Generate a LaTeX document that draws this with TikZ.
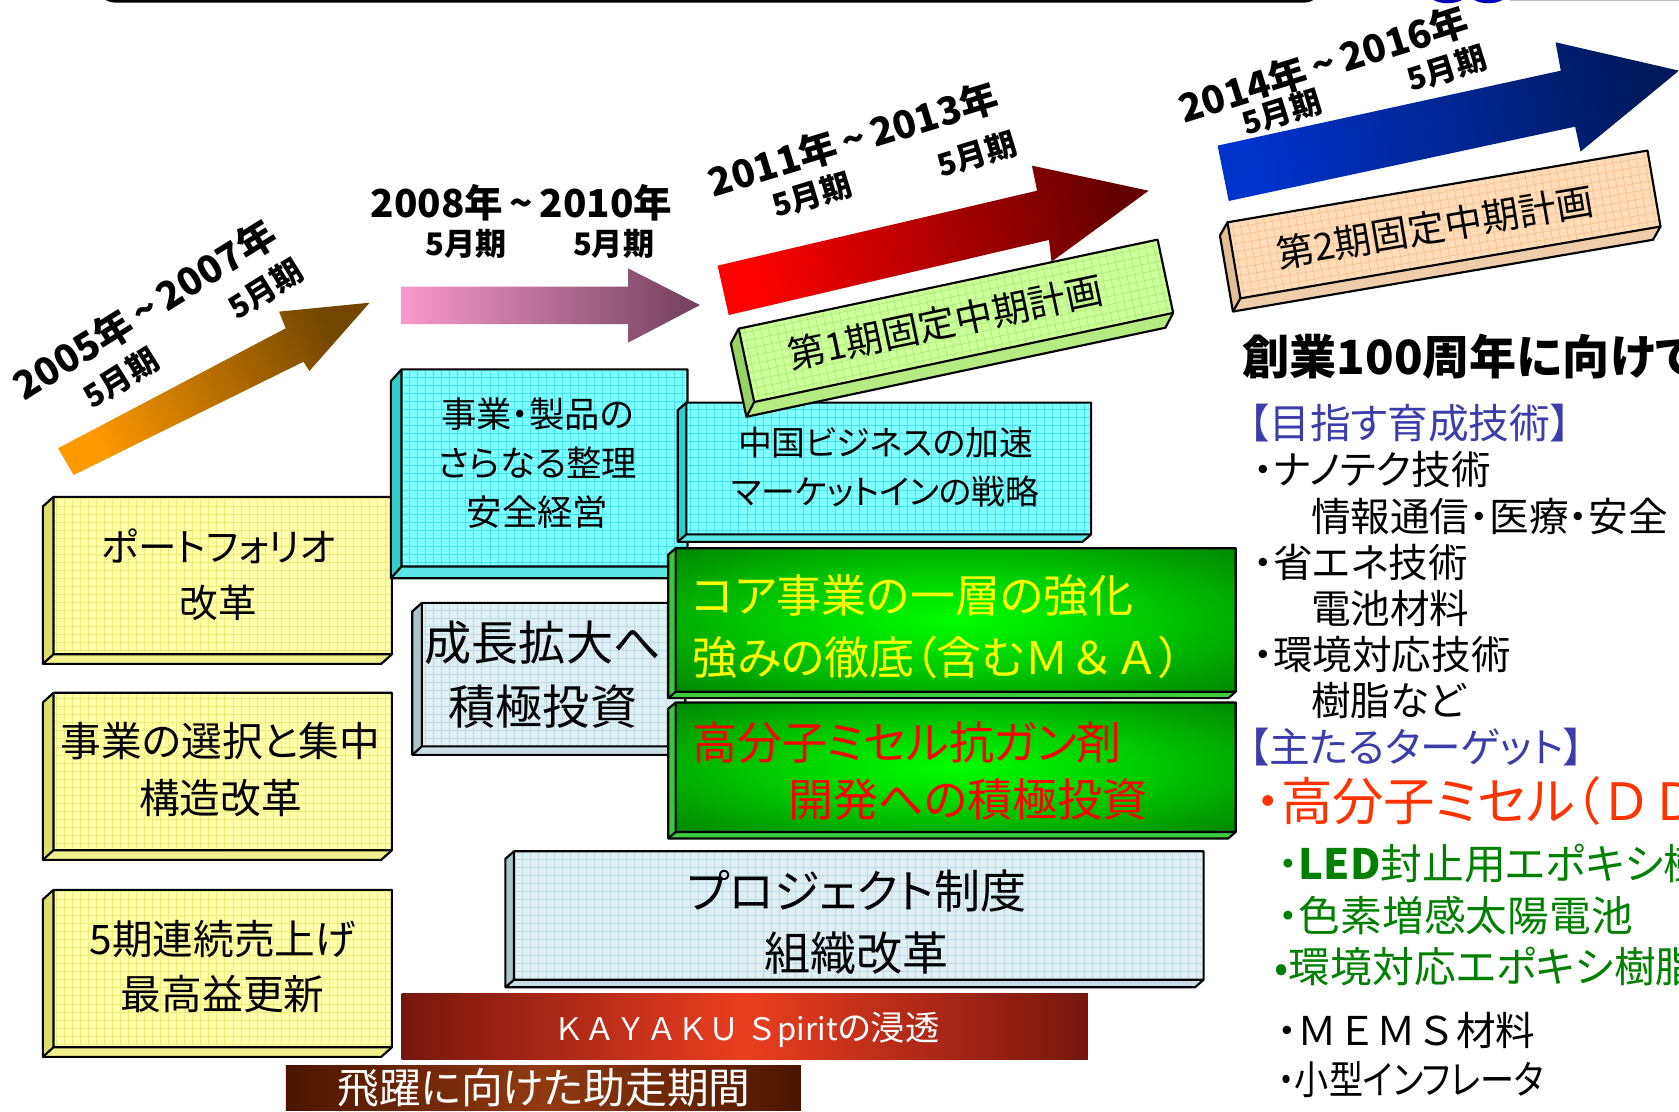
\documentclass[tikz,border=0pt]{standalone}
\usepackage{fontspec}
\usepackage{graphicx}
\setmainfont{Noto Sans CJK JP}[RawFeature=+palt]
\newfontfamily\jpw{Noto Sans CJK JP}
\newcommand\fsz[2]{\fontsize{#1}{#2}\selectfont}
\newcommand\tld{\,\textasciitilde\,}
\pgfdeclareradialshading{greenglow}{\pgfpoint{0bp}{0bp}}{rgb(0bp)=(0,1,0); rgb(18bp)=(0,0.78,0); rgb(47bp)=(0,0.36,0); rgb(50bp)=(0,0.36,0)}
% colours
\definecolor{yelF}{RGB}{255,255,170}\definecolor{yelL}{RGB}{222,222,110}\definecolor{yelB}{RGB}{240,240,140}\definecolor{yelG}{RGB}{236,236,120}
\definecolor{cyF}{RGB}{128,255,255}\definecolor{cyL}{RGB}{51,204,204}\definecolor{cyB}{RGB}{90,230,230}\definecolor{cyG}{RGB}{70,225,240}
\definecolor{gyF}{RGB}{222,240,244}\definecolor{gyL}{RGB}{170,195,200}\definecolor{gyB}{RGB}{200,222,228}\definecolor{gyG}{RGB}{190,218,226}
\definecolor{gnL}{RGB}{60,200,60}\definecolor{gnB}{RGB}{60,205,60}
\definecolor{lgF}{RGB}{204,255,153}\definecolor{lgL}{RGB}{150,210,100}\definecolor{lgB}{RGB}{180,235,130}\definecolor{lgG}{RGB}{175,235,125}
\definecolor{pcF}{RGB}{255,221,185}\definecolor{pcL}{RGB}{225,190,150}\definecolor{pcB}{RGB}{240,205,170}\definecolor{pcG}{RGB}{245,195,150}
\definecolor{arO1}{RGB}{255,153,0}\definecolor{arO2}{RGB}{115,70,0}
\definecolor{pk1}{RGB}{249,154,203}\definecolor{pk2}{RGB}{112,64,90}
\definecolor{rd1}{RGB}{255,0,0}\definecolor{rd2}{RGB}{100,0,0}
\definecolor{bl1}{RGB}{0,51,204}\definecolor{bl2}{RGB}{0,25,90}
\definecolor{kayE}{RGB}{118,22,14}\definecolor{kayM}{RGB}{235,62,32}
\definecolor{hiE}{RGB}{75,20,0}\definecolor{hiM}{RGB}{145,58,16}
\definecolor{hblue}{RGB}{60,60,170}\definecolor{ored}{RGB}{255,51,0}\definecolor{tgreen}{RGB}{0,128,0}
\definecolor{tyellow}{RGB}{255,255,0}\definecolor{tred}{RGB}{255,0,0}
\tikzset{
  boxline/.style={draw=black, line width=1pt, line join=round},
  yelfront/.style={fill=yelF}, yelleft/.style={fill=yelL}, yelbot/.style={fill=yelB}, yelgrid/.style={draw=yelG, line width=0.35pt, step=3.75pt},
  cyfront/.style={fill=cyF}, cyleft/.style={fill=cyL}, cybot/.style={fill=cyB}, cygrid/.style={draw=cyG, line width=0.35pt, step=3.75pt},
  gyfront/.style={fill=gyF}, gyleft/.style={fill=gyL}, gybot/.style={fill=gyB}, gygrid/.style={draw=gyG, line width=0.35pt, step=3.75pt},
  gnfront/.style={shade, shading=greenglow}, gnleft/.style={fill=gnL}, gnbot/.style={fill=gnB}, gngrid/.style={draw=none},
  lgfront/.style={fill=lgF}, lgleft/.style={fill=lgL}, lgbot/.style={fill=lgB}, lggrid/.style={draw=lgG, line width=0.35pt, step=3.75pt},
  pcfront/.style={fill=pcF}, pcleft/.style={fill=pcL}, pcbot/.style={fill=pcB}, pcgrid/.style={draw=pcG, line width=0.35pt, step=3.75pt},
  txt/.style={inner sep=0pt, align=center, text=black},
  datet/.style={inner sep=0pt, font=\bfseries\fsz{18}{22}},
  mayt/.style={inner sep=0pt, font=\bfseries\fsz{14.5}{18}},
  rcol/.style={inner sep=0pt, anchor=west, font=\fsz{18.5}{22}},
}
% cube: x1 y1 x2 y2 (front face), depth left, depth down, style prefix
\newcommand\cubebox[7]{%
  \fill[#7left] (#1,#2) -- ({#1-#5},{#2+#6}) -- ({#1-#5},{#4+#6}) -- (#1,#4) -- cycle;
  \fill[#7bot] (#1,#4) -- ({#1-#5},{#4+#6}) -- ({#3-#5},{#4+#6}) -- (#3,#4) -- cycle;
  \path[#7front] (#1,#2) rectangle (#3,#4);
  \begin{scope}
    \clip (#1,#2) rectangle (#3,#4);
    \draw[#7grid] (#1,#4) grid (#3,#2);
  \end{scope}
  \draw[boxline] (#1,#2) -- ({#1-#5},{#2+#6}) -- ({#1-#5},{#4+#6}) -- ({#3-#5},{#4+#6}) -- (#3,#4) -- (#3,#2) -- cycle;
  \draw[boxline] (#1,#2) -- (#1,#4) -- (#3,#4) (#1,#4) -- ({#1-#5},{#4+#6});
}
\begin{document}
\begin{tikzpicture}[x=0.5pt,y=-0.5pt]
\useasboundingbox (0,0) rectangle (1568,1038);
\clip (0,0) rectangle (1568,1038);
% top rule and logo fragment
\draw[line width=1.5pt, line cap=round] (95,-8) to[out=-80,in=180] (108,1) -- (1218,1) to[out=0,in=-100] (1230,-8);
\fill[blue!70!black] (1352,-4) ellipse (16 and 7);
\fill[blue!70!black] (1390,-4) ellipse (16 and 7);
\draw[gray!50, line width=0.8pt] (1410,0.5) -- (1568,0.5);
% arrows
\shade[left color=arO1, right color=arO2, shading angle=117.6] (54.2,418.6) -- (266.8,306.6) -- (260.6,291) -- (345.2,282.7) -- (288.9,346.5) -- (283.5,337.8) -- (68.8,443.6) -- cycle;
\shade[left color=pk1, right color=pk2] (374.4,267.7) -- (586.6,267.7) -- (586.6,250.6) -- (653.7,284.9) -- (586.6,320) -- (586.6,302.6) -- (374.4,302.6) -- cycle;
\shade[left color=rd1, right color=rd2, shading angle=103.2] (670.2,248.1) -- (968.5,178.1) -- (963.7,154.7) -- (1072.7,178.1) -- (982,244.4) -- (979.6,224.1) -- (680.5,294.2) -- cycle;
\shade[left color=bl1, right color=bl2, shading angle=102.2] (1137.1,136) -- (1457.6,66) -- (1452.7,39.5) -- (1568,66) -- (1476,141.6) -- (1471,118.3) -- (1147.5,187.7) -- cycle;
% cubes
\cubebox{50}{464}{366}{611}{10}{9}{yel}
\cubebox{50}{647}{366}{794}{10}{9}{yel}
\cubebox{50}{831}{366}{978}{10}{9}{yel}
\cubebox{375}{345}{642}{529}{10}{11}{cy}
\cubebox{641}{376}{1019}{499}{8}{7}{cy}
\begin{scope}[shift={(892.7,299.6)}, rotate=12]
  \cubebox{-200}{-35}{200}{35}{10}{12}{lg}
\end{scope}
\begin{scope}[shift={(1348.5,209.6)}, rotate=9.7]
  \cubebox{-199}{-36}{199}{36}{9}{11}{pc}
\end{scope}
\cubebox{394}{563}{640}{697}{9}{8}{gy}
\cubebox{631}{512}{1154}{646}{7}{6}{gn}
\cubebox{631}{656}{1154}{777}{7}{6}{gn}
\cubebox{480}{795}{1124}{915}{8}{7}{gy}
% bars
\shade[left color=kayE, right color=kayE, middle color=kayM] (375,928) rectangle (1016,989);
\shade[left color=hiE, right color=hiE, middle color=hiM] (267,995) rectangle (748,1037);
% date labels
\node[datet, rotate=32] (d1) at (135,289) {2005年\tld 2007年};
\node[mayt, rotate=32] (d1a) at (113,353) {5月期};
\node[mayt, rotate=32] (d1b) at (248,270) {5月期};
\node[datet] (d2) at (487,189) {2008年\tld 2010年};
\node[mayt] (d2a) at (435,228) {5月期};
\node[mayt] (d2b) at (573,228) {5月期};
\node[datet, rotate=17] (d3) at (797,130) {2011年\tld 2013年};
\node[mayt, rotate=17] (d3a) at (758,182) {5月期};
\node[mayt, rotate=17] (d3b) at (912,144) {5月期};
\node[datet, rotate=17.5] (d4) at (1236,60) {2014年\tld 2016年};
\node[mayt, rotate=17.5] (d4a) at (1197,105) {5月期};
\node[mayt, rotate=17.5] (d4b) at (1351,64) {5月期};
% plan labels
\node[inner sep=0pt, rotate=12, font=\fsz{17.5}{20}] (p1) at (883,301) {第1期固定中期計画};
\node[inner sep=0pt, rotate=9.7, font=\fsz{17.5}{20}] (p2) at (1340,212) {第2期固定中期計画};
% box texts
\node[txt, font=\fsz{18}{26}] (ya) at (204,537) {ポートフォリオ\\改革};
\node[txt, font=\fsz{19}{26.5}] (yb) at (206,718.5) {事業の選択と集中\\構造改革};
\node[txt, font=\fsz{19}{25.5}] (yc) at (208,902.5) {5期連続売上げ\\最高益更新};
\node[txt, font=\fsz{16.5}{22.75}] (c1) at (502,432.5) {事業・製品の\\さらなる整理\\安全経営};
\node[txt, font=\fsz{15.8}{23}] (c2) at (827,436) {中国ビジネスの加速\\マーケットインの戦略};
\node[txt, font=\fsz{22}{30}] (g1) at (507,630) {成長拡大へ\\積極投資};
\node[txt, font=\fsz{21}{29}, align=left, anchor=west, text=tyellow] (gn1) at (646,585) {コア事業の一層の強化\\強みの徹底（含む{\jpw Ｍ＆Ａ}）};
\node[txt, font=\fsz{21}{27}, align=left, anchor=west, text=tred] (gn2) at (646,720) {高分子ミセル抗ガン剤\\\hspace*{45pt}開発への積極投資};
\node[txt, font=\fsz{21.5}{29}] (pj) at (800,861) {プロジェクト制度\\組織改革};
\node[inner sep=0pt, text=white, font=\fsz{14.5}{18}] (kay) at (697,962) {{\jpw ＫＡＹＡＫＵ Ｓ}pirit{\fsz{16}{18}の浸透}};
\node[inner sep=0pt, text=white, font=\fsz{19.5}{22}] (hi) at (508,1016) {飛躍に向けた助走期間};
% right column
\node[rcol, font=\bfseries\fsz{22}{26}] (r0) at (1160,333) {創業100周年に向けて};
\node[rcol, text=hblue, font=\fsz{19}{22}] (r1) at (1166,395) {【目指す育成技術】};
\node[rcol] (r2) at (1170,438) {・ナノテク技術};
\node[rcol] (r3) at (1224,482) {情報通信・医療・安全};
\node[rcol] (r4) at (1170,525) {・省エネ技術};
\node[rcol] (r5) at (1224,568) {電池材料};
\node[rcol] (r6) at (1170,611) {・環境対応技術};
\node[rcol] (r7) at (1224,654) {樹脂など};
\node[rcol, text=hblue, font=\fsz{19}{22}] (r8) at (1166,698) {【主たるターゲット】};
\node[rcol, text=ored, font=\fsz{24}{28}] (r9) at (1172,748) {・高分子ミセル（{\jpw ＤＤＳ}）};
\node[rcol, text=tgreen, font=\fsz{19.5}{23}] (r10) at (1193,806) {・{\bfseries LED}封止用エポキシ樹脂};
\node[rcol, text=tgreen, font=\fsz{19.5}{23}] (r11) at (1193,855) {・色素増感太陽電池};
\node[rcol, text=tgreen, font=\fsz{19.5}{23}] (r12) at (1190,903) {•環境対応エポキシ樹脂};
\node[rcol] (r13) at (1193,962) {・{\jpw ＭＥＭＳ}材料};
\node[rcol] (r14) at (1193,1008) {\scalebox{0.86}[1]{・小型インフレータ}};
\end{tikzpicture}
\end{document}
